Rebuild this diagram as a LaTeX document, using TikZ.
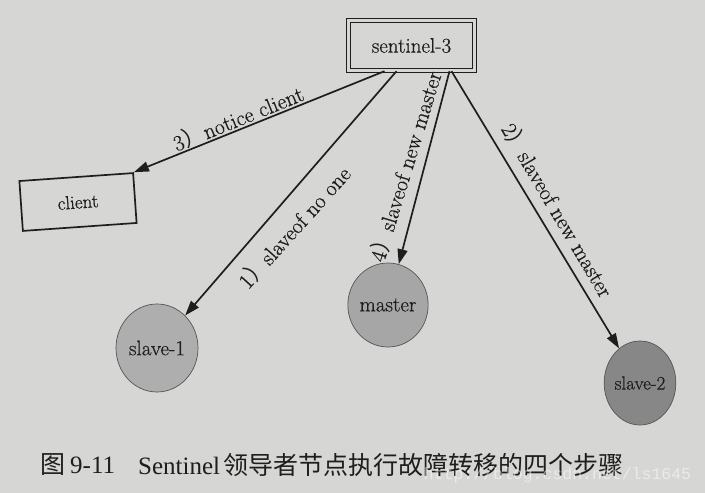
\documentclass[tikz,border=0pt]{standalone}
\usepackage{fontspec}
\newfontfamily\cjk{Noto Sans CJK SC}
\newfontfamily\capfont{Liberation Serif}
\newfontfamily\wmfont{Liberation Mono}
\newfontfamily\lblfont{Latin Modern Roman}[FakeBold=0.6]
\usetikzlibrary{arrows.meta,shapes.geometric}
\definecolor{paper}{HTML}{D6D6D4}
\definecolor{ink}{HTML}{1E1E1E}
\definecolor{gA}{HTML}{AEAEAE}
\definecolor{gB}{HTML}{A6A6A6}
\definecolor{gC}{HTML}{878787}
\begin{document}
\begin{tikzpicture}[x=1pt,y=1pt,
  conn/.style={draw=ink, line width=1.7pt, -{Triangle[length=15pt,width=10pt]}},
  lbl/.style={font=\lblfont\fontsize{22}{25}\selectfont, text=ink, inner sep=0pt},
  nodefont/.style={font=\lblfont\fontsize{21}{24}\selectfont, text=ink},
  boxnode/.style={nodefont, draw=ink, line width=1.7pt, minimum width=114pt, minimum height=50pt, inner sep=0pt},
  ball/.style={nodefont, ellipse, draw=ink!75, line width=0.7pt, inner sep=0pt}]
\fill[paper] (0,0) rectangle (705,493);
\useasboundingbox (0,0) rectangle (705,493);

% nodes
\node[nodefont, draw=ink, double=paper, double distance=2.6pt, line width=1.4pt,
      minimum width=126pt, minimum height=50pt, inner sep=0pt] (sentinel) at (411.5,447.5) {sentinel-3};
\node[boxnode, rotate=4, font=\lblfont\fontsize{19}{22}\selectfont] (client) at (78,291) {client};
\node[ball, fill=gA, minimum width=82pt, minimum height=88pt] (slave1) at (157,145) {slave-1};
\node[ball, fill=gB, minimum width=78pt, minimum height=84pt] (master) at (388,188) {master};
\node[ball, fill=gC, minimum width=70pt, minimum height=84pt, font=\lblfont\fontsize{19}{22}\selectfont] (slave2) at (640,110) {slave-2};

% connectors
\draw[conn] ([xshift=-27pt]sentinel.south) -- (client.north east);
\draw[conn] ([xshift=-15pt]sentinel.south) -- (slave1);
\draw[conn] ([xshift=38pt]sentinel.south) -- (master);
\draw[conn] ([xshift=40pt]sentinel.south) -- (slave2);

% labels
\node[lbl, rotate=22] (l3) at (238,375) {3{\cjk ）}notice client};
\node[lbl, rotate=48] (l1) at (294,266) {1{\cjk ）}slaveof no one};
\node[lbl, rotate=73] (l4) at (405,327) {4{\cjk ）}slaveof new master};
\node[lbl, rotate=-59.5] (l2) at (558,283) {2{\cjk ）}slaveof new master};

% caption
\node[anchor=west, inner sep=0pt, text=ink] (fig) at (40,28)
  {{\fontsize{25}{28}\selectfont\cjk 图}\hspace{5pt}{\fontsize{25}{28}\selectfont\capfont 9-11}};
\node[anchor=west, inner sep=0pt, text=ink] (cap) at (138,28)
  {{\fontsize{25}{28}\selectfont\capfont Sentinel} {\fontsize{25}{28}\selectfont\cjk 领导者节点执行故障转移的四个步骤}};
\node[inner sep=0pt, text=white, opacity=0.5] (wm) at (557.5,18)
  {\fontsize{16.5}{18}\selectfont\wmfont http://blog.csdn.net/ls1645};
\end{tikzpicture}
\end{document}
